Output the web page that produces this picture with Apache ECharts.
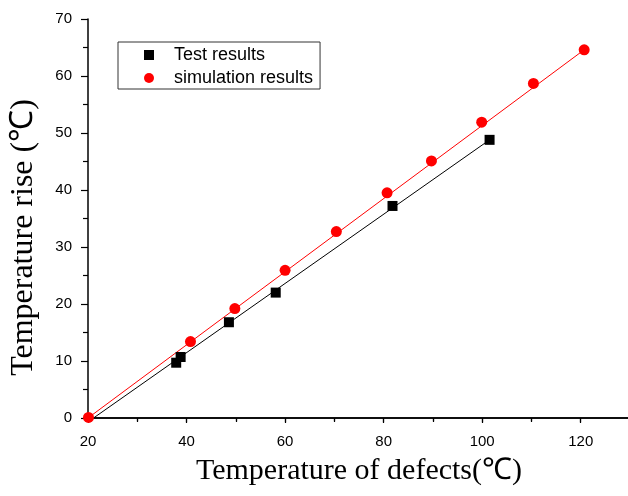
<!DOCTYPE html>
<html>
<head>
<meta charset="utf-8">
<script src="https://cdn.jsdelivr.net/npm/echarts@6/dist/echarts.min.js"></script>
<style>
  html, body { margin: 0; padding: 0; background: #fff; }
  #main { width: 628px; height: 496px; }
</style>
</head>
<body>
<div id="main"></div>
<script>
// 数据
var testX = [37.9, 38.8, 48.6, 58.1, 81.8, 101.5];
var testY = [9.7, 10.7, 16.8, 22.0, 37.2, 48.8];
var simX = [20.1, 40.8, 49.8, 60.0, 70.4, 80.7, 89.7, 99.9, 110.4, 120.7];
var simY = [0.1, 13.4, 19.2, 25.9, 32.7, 39.5, 45.1, 51.9, 58.7, 64.6];
// 拟合直线端点
var testFitX = [20.3, 101.5];
var testFitY = [-0.5, 48.8];
var simFitX = [20.0, 120.7];
var simFitY = [0.0, 64.6];

function pairs(xs, ys) {
  return xs.map(function (x, i) { return [x, ys[i]]; });
}

var myChart = echarts.init(document.getElementById('main'));

var sans = 'Liberation Sans';
var serif = 'Liberation Serif';

var option = {
  animation: false,
  grid: {
    left: 88,
    top: 19,
    right: -2,
    bottom: 78,
    outerBoundsMode: 'none',
    containLabel: false
  },
  legend: {
    orient: 'vertical',
    left: 118,
    top: 42,
    padding: [4, 7, 2, 26],
    itemGap: 5,
    itemWidth: 10,
    itemHeight: 10,
    borderColor: '#333',
    borderWidth: 1,
    textStyle: {
      fontFamily: sans,
      fontSize: 18,
      color: '#000',
      padding: [0, 0, 0, 15]
    },
    data: [
      { name: 'Test results', icon: 'rect' },
      { name: 'simulation results', icon: 'circle' }
    ]
  },
  xAxis: [
    {
      type: 'value',
      min: 20,
      max: 130,
      interval: 20,
      name: 'Temperature of defects(℃)',
      nameLocation: 'middle',
      nameGap: 38,
      nameTextStyle: { fontFamily: serif, fontSize: 30, color: '#000' },
      axisLine: { show: true, lineStyle: { color: '#000', width: 1.5 } },
      axisTick: { show: true, inside: false, length: 5, lineStyle: { color: '#000', width: 1.2 } },
      minorTick: { show: true, splitNumber: 2, length: 3, lineStyle: { color: '#000', width: 1.2 } },
      axisLabel: { fontFamily: sans, fontSize: 15, color: '#000', margin: 16, showMaxLabel: false },
      splitLine: { show: false }
    },
    {
      type: 'value',
      position: 'top',
      min: 20,
      max: 130,
      interval: 20,
      axisLine: { show: true, lineStyle: { color: '#000', width: 1.5 } },
      axisTick: { show: true, inside: true, length: 4, lineStyle: { color: '#000', width: 1.2 } },
      minorTick: { show: true, splitNumber: 2, length: 4, lineStyle: { color: '#000', width: 1.2 } },
      axisLabel: { show: false },
      splitLine: { show: false }
    }
  ],
  yAxis: [
    {
      type: 'value',
      min: 0,
      max: 70,
      interval: 10,
      name: 'Temperature rise (℃)',
      nameLocation: 'middle',
      nameGap: 48,
      nameTextStyle: { fontFamily: serif, fontSize: 32, color: '#000', padding: [0, 38, 0, 0] },
      axisLine: { show: true, lineStyle: { color: '#000', width: 1.5 } },
      axisTick: { show: true, inside: false, length: 7, lineStyle: { color: '#000', width: 1.2 } },
      minorTick: { show: true, splitNumber: 2, length: 5, lineStyle: { color: '#000', width: 1.2 } },
      axisLabel: { fontFamily: sans, fontSize: 15, color: '#000', margin: 16 },
      splitLine: { show: false }
    },
    {
      type: 'value',
      position: 'right',
      min: 0,
      max: 70,
      interval: 10,
      axisLine: { show: true, lineStyle: { color: '#000', width: 1.5 } },
      axisTick: { show: false },
      axisLabel: { show: false },
      splitLine: { show: false }
    }
  ],
  series: [
    {
      name: 'Test fit',
      type: 'line',
      data: pairs(testFitX, testFitY),
      showSymbol: false,
      clip: false,
      lineStyle: { color: '#000', width: 1 },
      z: 1
    },
    {
      name: 'Simulation fit',
      type: 'line',
      data: pairs(simFitX, simFitY),
      showSymbol: false,
      clip: false,
      lineStyle: { color: '#ff0000', width: 1 },
      z: 1
    },
    {
      name: 'Test results',
      type: 'scatter',
      symbol: 'rect',
      symbolSize: 10,
      data: pairs(testX, testY),
      itemStyle: { color: '#000', opacity: 1 },
      z: 3
    },
    {
      name: 'simulation results',
      type: 'scatter',
      symbol: 'circle',
      symbolSize: 11,
      data: pairs(simX, simY),
      itemStyle: { color: '#ff0000', opacity: 1 },
      clip: false,
      z: 3
    }
  ]
};

myChart.setOption(option);
</script>
</body>
</html>
